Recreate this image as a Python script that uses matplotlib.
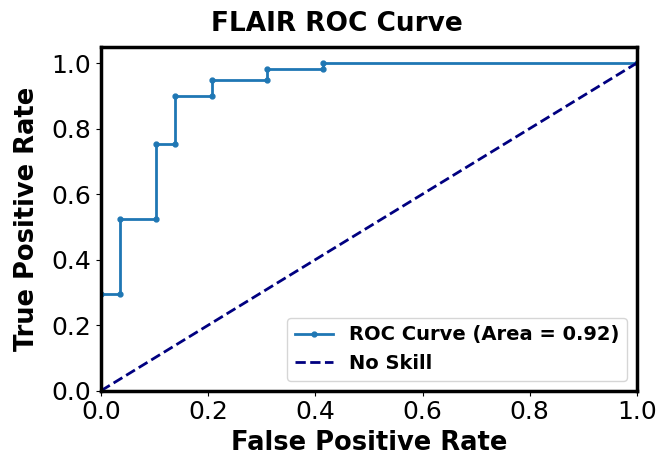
import numpy as np
import matplotlib.pyplot as plt

# ROC points
fpr = [0.0, 0.0, 0.0345, 0.0345, 0.1034, 0.1034, 0.1379, 0.1379, 0.2069, 0.2069,
       0.3103, 0.3103, 0.4138, 0.4138, 1.0]
tpr = [0.0, 0.294, 0.294, 0.523, 0.523, 0.753, 0.753, 0.898, 0.898, 0.949,
       0.949, 0.983, 0.983, 1.0, 1.0]
area = 0.92

fig = plt.figure(figsize=(6.62, 4.62), dpi=100)
ax = fig.add_axes([0.1526, 0.1543, 0.8094, 0.7447])

ax.plot(fpr, tpr, marker='.', markersize=7, linewidth=2, color='tab:blue',
        label='ROC Curve (Area = %.2f)' % area)
ax.plot([0, 1], [0, 1], linestyle='--', linewidth=2, color='navy', label='No Skill')

ax.set_xlim(0, 1)
ax.set_ylim(0, 1.05)
ax.set_title("FLAIR ROC Curve", fontsize=19, fontweight='bold', x=0.44, pad=11)
ax.set_xlabel("False Positive Rate", fontsize=18.5, fontweight='bold')
ax.set_ylabel("True Positive Rate", fontsize=18.5, fontweight='bold', labelpad=8)
ax.tick_params(labelsize=18)
for s in ax.spines.values():
    s.set_linewidth(2.5)
ax.legend(loc='lower right', prop={'weight': 'bold', 'size': 14})

fig.savefig("out.png")
